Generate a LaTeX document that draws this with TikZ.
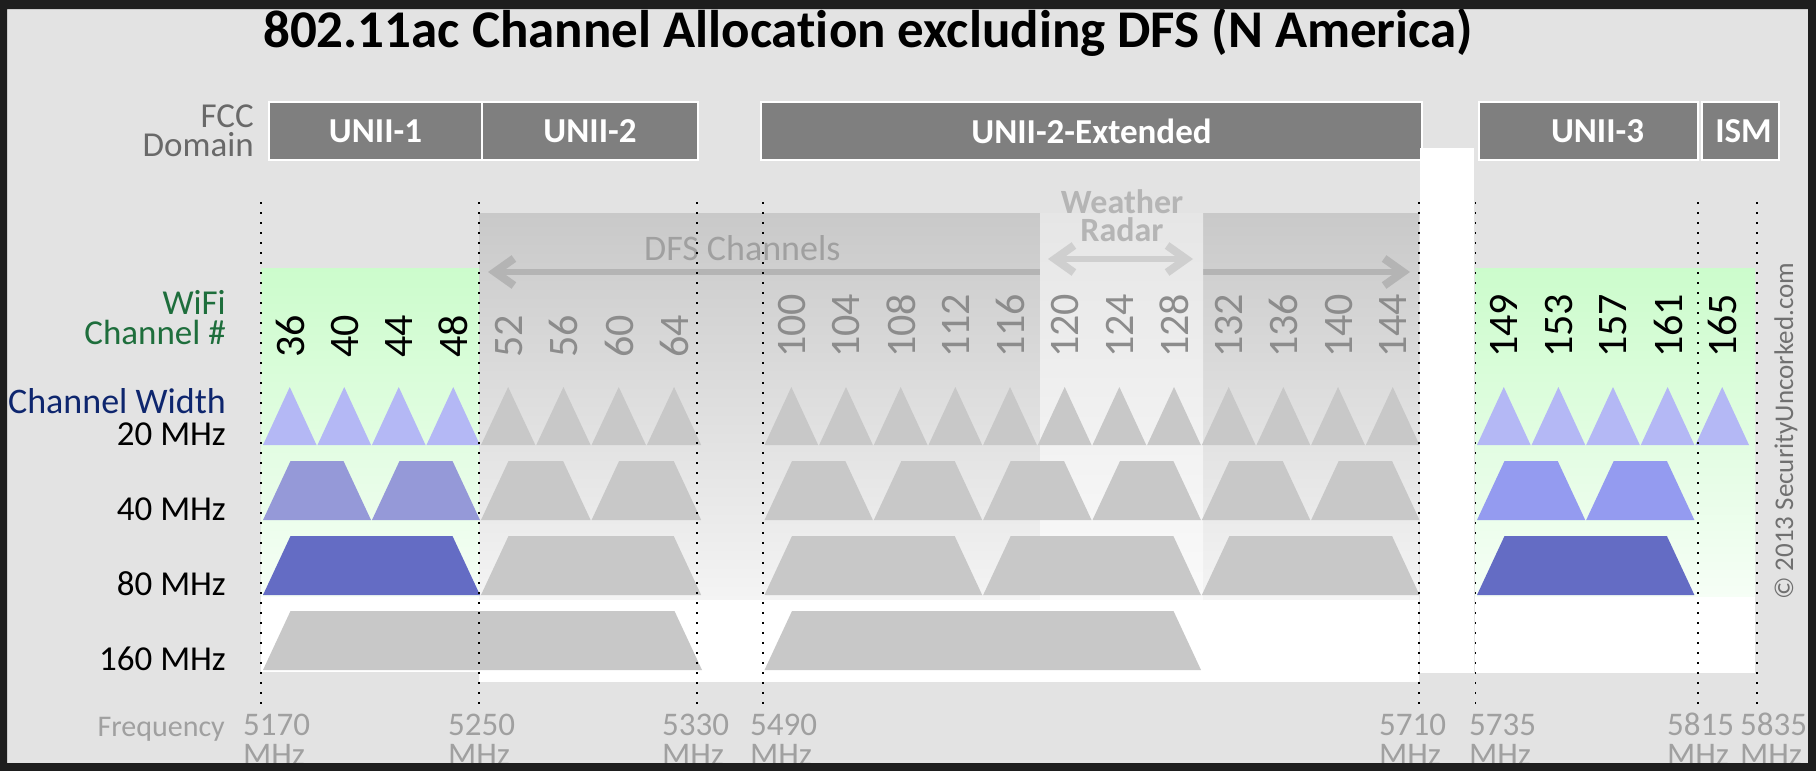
\documentclass[tikz,border=0pt]{standalone}
\usepackage{fontspec}
\setmainfont{Carlito}[Ligatures=NoCommon]
\usetikzlibrary{arrows.meta}
\definecolor{darkframe}{RGB}{30,30,30}
\definecolor{bgray}{RGB}{227,227,227}
\definecolor{boxgray}{RGB}{127,127,127}
\definecolor{dfstop}{RGB}{201,201,201}
\definecolor{dfsbot}{RGB}{244,244,244}
\definecolor{wrtop}{RGB}{230,230,230}
\definecolor{wrbot}{RGB}{250,250,250}
\definecolor{greentop}{RGB}{204,252,204}
\definecolor{greenbot}{RGB}{246,254,246}
\definecolor{shapegray}{RGB}{200,200,200}
\definecolor{tri20}{RGB}{180,184,245}
\definecolor{trapA}{RGB}{149,153,216}
\definecolor{trapB}{RGB}{148,155,240}
\definecolor{trapC}{RGB}{100,108,196}
\definecolor{wifigreen}{RGB}{30,110,60}
\definecolor{widthblue}{RGB}{14,38,110}
\definecolor{fccgray}{RGB}{105,105,105}
\definecolor{freqgray}{RGB}{160,160,160}
\definecolor{changray}{RGB}{140,140,140}
\definecolor{dfstext}{RGB}{160,160,160}
\definecolor{dfsarrowc}{RGB}{180,180,180}
\definecolor{wrtext}{RGB}{181,181,181}
\definecolor{wrarrowc}{RGB}{207,207,207}
\definecolor{copygray}{RGB}{112,112,112}
\newcommand{\fsz}[1]{\fontsize{#1}{#1}\selectfont}
\newcommand{\chtri}[3]{\fill[#3] (#1,445) -- ({(#1+#2)/2},387) -- (#2,445) -- cycle;}
\newcommand{\chtrap}[5]{\fill[#5] (#1,#4) -- ({#1+27.5},#3) -- ({#2-27.5},#3) -- (#2,#4) -- cycle;}
\tikzset{
  domainbox/.style={draw=white, line width=1.5pt, fill=boxgray, text=white,
    font=\bfseries\fsz{35}, inner sep=0pt, minimum height=58pt},
  chnum/.style={rotate=90, anchor=west, inner sep=0pt, font=\fsz{42}},
  rowlabel/.style={anchor=base east, inner sep=0pt, font=\fsz{35}},
  twoline/.style={anchor=south east, inner sep=0pt, align=right},
  freqlabel/.style={anchor=base west, inner sep=0pt, font=\fsz{33}, text=freqgray},
  dotline/.style={line width=1.8pt, dash pattern=on 1.8pt off 8.2pt, black},
  barb/.style={line width=6pt, arrows={Straight Barb[length=19pt,width=27pt,line width=8pt]-Straight Barb[length=19pt,width=27pt,line width=8pt]}},
}
\begin{document}
\begin{tikzpicture}[x=1pt,y=-1pt]
\useasboundingbox (0,0) rectangle (1816,771);
\fill[bgray] (0,0) rectangle (1816,771);

% title
\node[anchor=base west, inner sep=0pt, font=\bfseries\fsz{53}] (title) at (263,47)
  {802.11ac Channel Allocation excluding DFS (N America)};

% FCC domain boxes
\node[domainbox, minimum width=213pt] (unii1) at (375.5,131) {UNII-1};
\node[domainbox, minimum width=216pt] (unii2) at (590,131) {UNII-2};
\node[domainbox, minimum width=661pt] (unii2e) at (1091.5,131) {UNII-2-Extended};
\node[domainbox, minimum width=219pt] (unii3) at (1588.5,131) {\hspace*{18pt}UNII-3};
\node[domainbox, minimum width=77pt] (ism) at (1740.5,131) {\hspace*{6pt}ISM};

% DFS region
\shade[top color=dfstop, bottom color=dfsbot] (479,213) rectangle (1419,600);
\fill[white] (479,600) rectangle (1419,682);
\coordinate (dfsL) at (488,272);
\coordinate (dfsR) at (1410,272);
\draw[barb, dfsarrowc] (dfsL) -- (dfsR);
\node[anchor=base west, inner sep=0pt, font=\fsz{36}, text=dfstext] (dfs) at (644,260) {DFS Channels};

% weather radar column
\shade[top color=wrtop, bottom color=wrbot] (1040,213) rectangle (1203,600);
\fill[white] (1040,600) rectangle (1203,682);
\node[anchor=south, inner sep=0pt, align=center, font=\bfseries\fontsize{34}{28}\selectfont, text=wrtext]
  (wr) at (1122,242) {Weather\\Radar};
\coordinate (wrL) at (1048,259);
\coordinate (wrR) at (1193,259);
\draw[barb, wrarrowc] (wrL) -- (wrR);

% green regions
\shade[top color=greentop, bottom color=greenbot] (261,268) rectangle (479,597);
\fill[white] (261,597) rectangle (479,672);
\shade[top color=greentop, bottom color=greenbot] (1475,268) rectangle (1755,597);
\fill[white] (1475,597) rectangle (1755,673);

% white column
\fill[white] (1420,148) rectangle (1474,673);

% channel numbers
\foreach \n [count=\k from 0] in {36,40,44,48}
  \node[chnum] (ch\n) at ({263+(\k+0.5)*54.5},358) {\n};
\foreach \n [count=\k from 0] in {52,56,60,64}
  \node[chnum, text=changray] (ch\n) at ({481+(\k+0.5)*55.3},358) {\n};
\foreach \n [count=\k from 0] in {100,104,108,112,116,120,124,128,132,136,140,144}
  \node[chnum, text=changray] (ch\n) at ({764.5+(\k+0.5)*54.67},358) {\n};
\foreach \n [count=\k from 0] in {149,153,157,161,165}
  \node[chnum] (ch\n) at ({1477+(\k+0.5)*54.6},358) {\n};

% 20 MHz
\foreach \L/\W/\N/\C in {263/54.5/3/tri20, 481/55.3/3/shapegray, 764.5/54.67/11/shapegray, 1477/54.6/4/tri20}{
  \foreach \k in {0,...,\N}{
    \pgfmathsetmacro\a{\L+\k*\W}
    \pgfmathsetmacro\b{\L+(\k+1)*\W-1}
    \chtri{\a}{\b}{\C}
  }
}
% 40 MHz
\foreach \L/\W/\N/\C in {263/54.5/1/trapA, 481/55.3/1/shapegray, 764.5/54.67/5/shapegray, 1477/54.6/1/trapB}{
  \foreach \k in {0,...,\N}{
    \pgfmathsetmacro\a{\L+2*\k*\W}
    \pgfmathsetmacro\b{\L+(2*\k+2)*\W-1}
    \chtrap{\a}{\b}{461}{520}{\C}
  }
}
% 80 MHz
\foreach \L/\W/\N/\C in {263/54.5/0/trapC, 481/55.3/0/shapegray, 764.5/54.67/2/shapegray, 1477/54.6/0/trapC}{
  \foreach \k in {0,...,\N}{
    \pgfmathsetmacro\a{\L+4*\k*\W}
    \pgfmathsetmacro\b{\L+(4*\k+4)*\W-1}
    \chtrap{\a}{\b}{536}{595}{\C}
  }
}
% 160 MHz
\chtrap{263}{702}{611}{670}{shapegray}
\chtrap{764.5}{1201}{611}{670}{shapegray}

% dotted frequency lines
\foreach \x in {261,479,697,763,1419,1475.5,1698,1757}
  \draw[dotline] (\x,202) -- (\x,708);

% row labels
\node[twoline, font=\fontsize{35}{29}\selectfont, text=fccgray] (fcc) at (254,157) {FCC\\Domain};
\node[twoline, font=\fontsize{35}{30}\selectfont, text=wifigreen] (wifi) at (226,345) {WiFi\\Channel \#};
\node[rowlabel, font=\fsz{36}, text=widthblue] (cw) at (226,413) {Channel Width};
\node[rowlabel] (w20) at (226,445) {20 MHz};
\node[rowlabel] (w40) at (226,520) {40 MHz};
\node[rowlabel] (w80) at (226,595) {80 MHz};
\node[rowlabel] (w160) at (226,670) {160 MHz};
\node[rowlabel, font=\fsz{30}, text=freqgray] (freq) at (225,736) {Frequency};

% frequency labels
\foreach \x/\f in {243/5170, 448/5250, 662/5330, 750/5490, 1379/5710, 1469/5735, 1667/5815, 1740/5835}{
  \node[freqlabel] (f\f) at (\x,735) {\f};
  \node[freqlabel] (m\f) at (\x,765) {MHz};
}

% copyright
\node[rotate=90, anchor=base west, inner sep=0pt, font=\fsz{27}, text=copygray] (copy) at (1793,600)
  {© 2013 SecurityUncorked.com};

% frame
\fill[darkframe, even odd rule] (0,0) rectangle (1816,771) (7,9) rectangle (1808,763);
\end{tikzpicture}
\end{document}
